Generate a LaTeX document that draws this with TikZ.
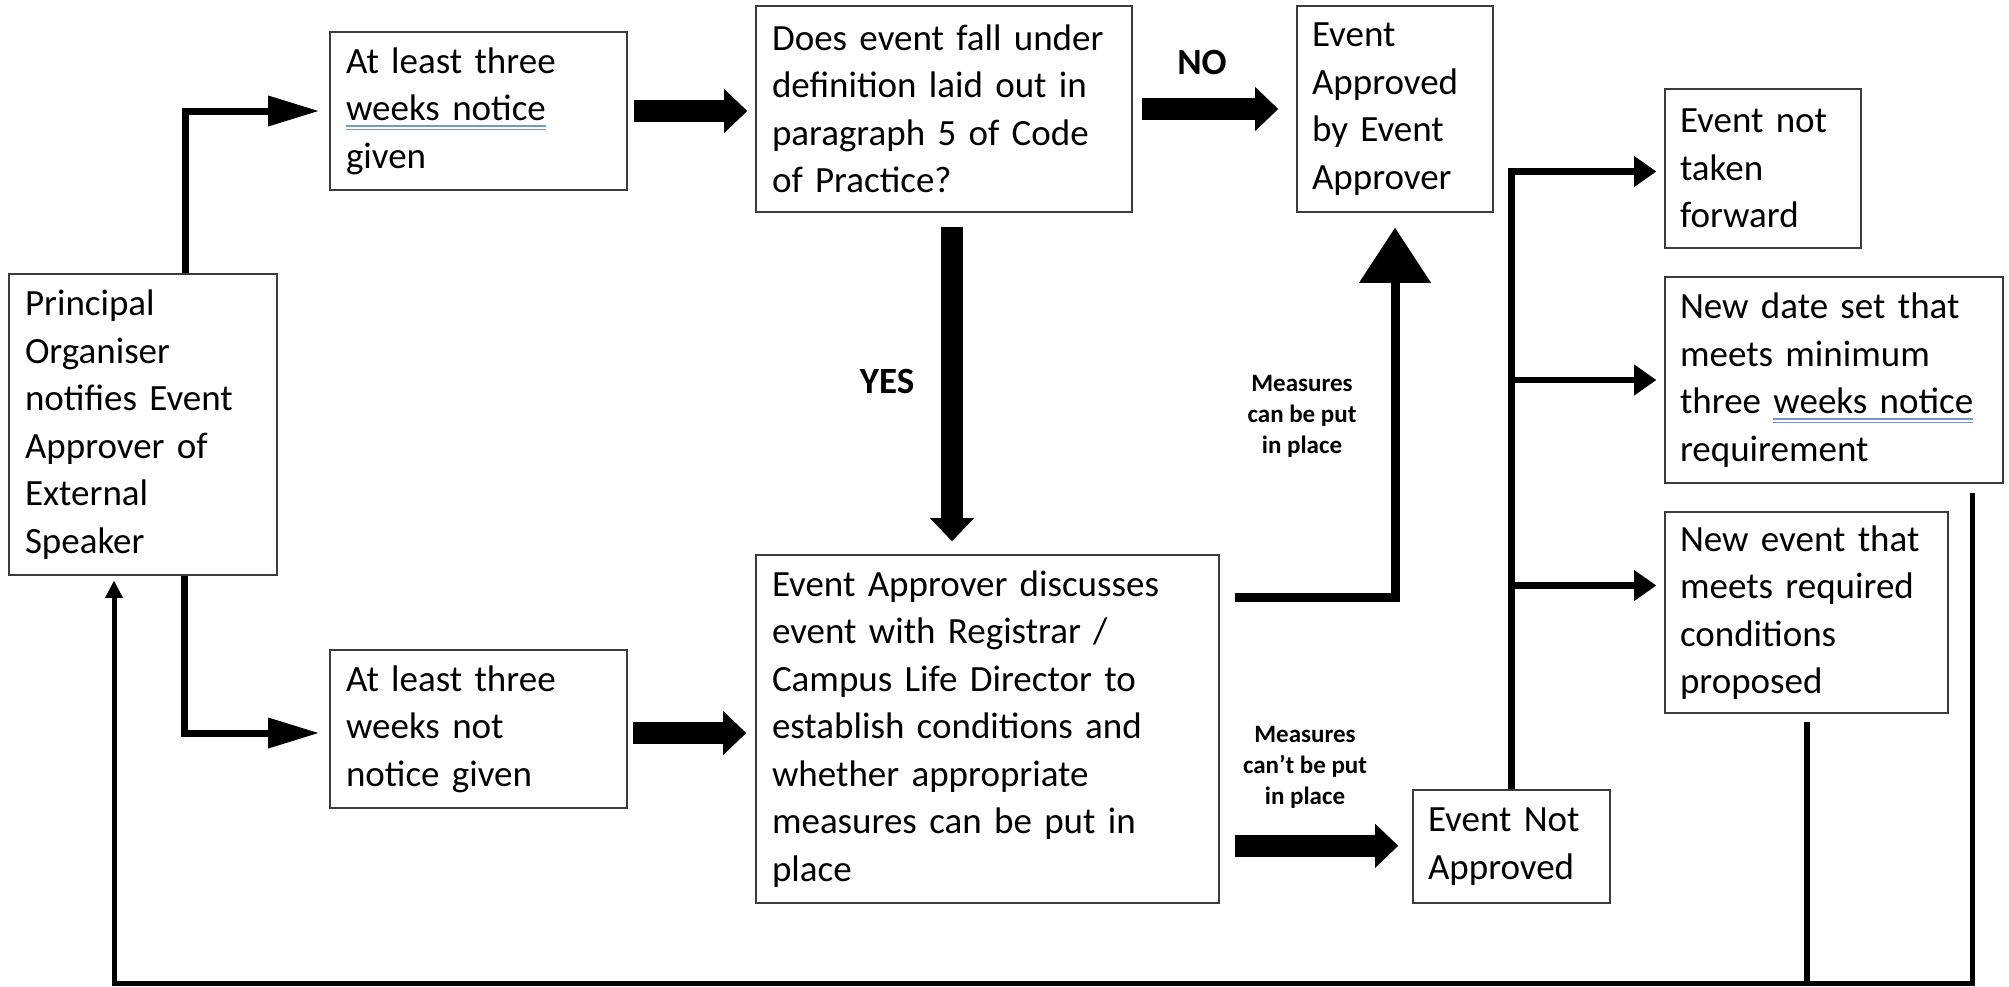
\documentclass[tikz,border=0pt]{standalone}
\usepackage{fontspec}
\setmainfont{Carlito}
\usetikzlibrary{arrows.meta,calc}
\definecolor{boxgray}{RGB}{60,60,60}
\definecolor{ulblue}{RGB}{120,150,195}
\newcommand{\bodyfont}{\fontsize{37}{47.5}\selectfont}
\newcommand{\labfont}{\fontsize{25}{31}\selectfont}
\newcommand{\dbul}[1]{\setbox0=\hbox{#1}\leavevmode\rlap{\color{ulblue}\rule[-6pt]{\wd0}{1.2pt}}\rlap{\color{ulblue}\rule[-9.5pt]{\wd0}{1.2pt}}\box0}
\tikzset{
  box/.style={draw=boxgray, line width=1.6pt, rectangle, inner sep=0pt, align=left, font=\bodyfont},
  bigarrow/.style={line width=22pt, -{Triangle[length=23pt,width=44pt,line width=0pt]}},
  elbowarrow/.style={line width=7pt, line join=miter, -{Triangle[length=50pt,width=31pt,line width=0pt]}},
  uparrow/.style={line width=9pt, line join=miter, -{Triangle[length=55pt,width=72pt,line width=0pt]}},
  brancharrow/.style={line width=6.5pt, line join=miter, -{Triangle[length=22pt,width=31pt,line width=0pt]}},
  retarrow/.style={line width=5pt, line join=miter, -{Triangle[length=17pt,width=18pt,line width=0pt]}},
  plainline/.style={line width=6pt},
  lab/.style={font=\bodyfont\bfseries, inner sep=0pt},
  smalllab/.style={font=\labfont\bfseries, align=center, inner sep=0pt},
}
\begin{document}
\begin{tikzpicture}[x=1pt,y=-1pt]
\useasboundingbox[fill=white] (0,0) rectangle (2009,986);

% boxes
\node[box, minimum width=268pt, minimum height=301pt, text width=236pt] (p) at (143,424.5)
  {Principal\\Organiser\\notifies Event\\Approver of\\External\\Speaker};
\node[box, minimum width=297pt, minimum height=158pt, text width=265pt] (b1) at (478.5,111)
  {At least three\\\dbul{weeks notice}\\given};
\node[box, minimum width=376pt, minimum height=206pt, text width=344pt] (b2) at (944,109)
  {Does event fall under\\definition laid out in\\paragraph 5 of Code\\of Practice?};
\node[box, minimum width=196pt, minimum height=206pt, text width=166pt] (b3) at (1395,109)
  {Event\\Approved\\by Event\\Approver};
\node[box, minimum width=196pt, minimum height=159pt, text width=166pt] (b4) at (1763,168.5)
  {Event not\\taken\\forward};
\node[box, minimum width=338pt, minimum height=206pt, text width=308pt] (b5) at (1834,380)
  {New date set that\\meets minimum\\three \dbul{weeks notice}\\requirement};
\node[box, minimum width=283pt, minimum height=201pt, text width=253pt] (b9) at (1806.5,612.5)
  {New event that\\meets required\\conditions\\proposed};
\node[box, minimum width=463pt, minimum height=348pt, text width=431pt] (b6) at (987.5,729)
  {Event Approver discusses\\event with Registrar /\\Campus Life Director to\\establish conditions and\\whether appropriate\\measures can be put in\\place};
\node[box, minimum width=297pt, minimum height=158pt, text width=265pt] (b7) at (478.5,729)
  {At least three\\weeks not\\notice given};
\node[box, minimum width=197pt, minimum height=113pt, text width=167pt] (b8) at (1511.5,846.5)
  {Event Not\\Approved};

% labels
\node[lab] (no) at (1202,62) {NO};
\node[lab] (yes) at (887,381) {YES};
\node[smalllab] (m1) at (1302,416) {Measures\\can be put\\in place};
\node[smalllab] (m2) at (1305,767) {Measures\\can’t be put\\in place};

% connectors
\draw[elbowarrow, shorten >=11pt] ([xshift=42pt]p.north) |- (b1.west);
\draw[elbowarrow, shorten >=11pt] ([xshift=41pt]p.south) |- ([yshift=-4pt]b7.west);
\draw[bigarrow, shorten <=6pt, shorten >=8pt] (b1.east) -- (b1.east -| b2.west);
\draw[bigarrow, shorten <=5pt, shorten >=9pt] ([yshift=-4pt]b7.east) -- ([yshift=-4pt]b7.east -| b6.west);
\draw[bigarrow, shorten <=9pt, shorten >=18pt] (b2.east) -- (b3.west);
\draw[bigarrow, shorten <=14pt, shorten >=13pt] ([xshift=8pt]b2.south) -- ([xshift=8pt]b2.south |- b6.north);
\draw[uparrow, shorten <=15pt, shorten >=15pt] ([yshift=-43pt]b6.north east) -| (b3.south);
\draw[bigarrow, shorten <=15pt, shorten >=14pt] ([yshift=58pt]b6.south east) -- ([yshift=58pt]b6.south east -| b8.west);

% branches from Event Not Approved
\draw[brancharrow, shorten >=8pt] (b8.north) |- ([yshift=-3pt]b4.west);
\draw[brancharrow, shorten >=8pt] (b8.north |- b5.west) -- (b5.west);
\draw[brancharrow, shorten >=8pt] ($(b8.north |- b9.west)+(0,-27)$) -- ($(b9.west)+(0,-27)$);

% return loop
\coordinate (r5) at ($(b5.south)+(138,9)$);
\coordinate (bot) at (114,983);
\draw[plainline] ($(b9.south)+(0,8)$) -- (b9.south |- bot);
\draw[retarrow, shorten >=5pt] (r5) |- (bot) -- (bot |- p.south);
\end{tikzpicture}
\end{document}
